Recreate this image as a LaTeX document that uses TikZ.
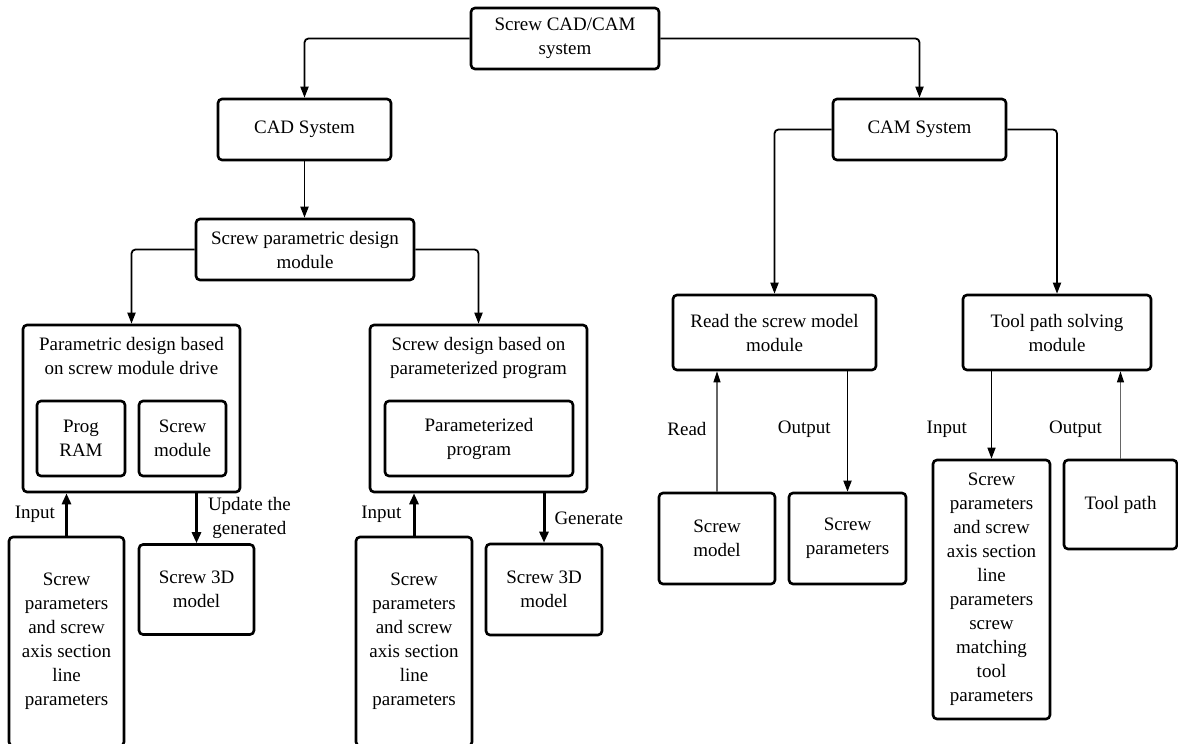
\documentclass[tikz,border=0pt]{standalone}
\usepackage{fontspec}
\setmainfont{Liberation Serif}
\usetikzlibrary{arrows.meta}
\usetikzlibrary{positioning}

\begin{document}
\begin{tikzpicture}[x=1pt,y=-1pt,
    font=\fontsize{19}{24}\selectfont,
    box/.style={draw, line width=2.6pt, rounded corners=4pt, align=center, inner sep=0pt},
    tag/.style={inner sep=0pt, align=center},
    link/.style={line width=1.8pt, rounded corners=4pt, -{Triangle[length=11pt,width=8pt]}},
    heavy/.style={line width=3pt, -{Triangle[length=11pt,width=9pt]}},
    lite/.style={line width=1.1pt, draw=black!60, -{Triangle[length=11pt,width=7pt,color=black]}}]
\useasboundingbox (0,0) rectangle (1178,744);
\clip (0,0) rectangle (1178,744);
\fill[white] (0,0) rectangle (1178,744);

% Root and the two systems
\node[box, minimum width=188pt, minimum height=61pt] (root) at (565,38.5) {Screw CAD/CAM\\system};
\node[box, minimum width=173pt, minimum height=61pt] (cad) at (304.5,129.5) {CAD System};
\node[box, minimum width=173pt, minimum height=61pt] (cam) at (919.5,129.5) {CAM System};

% CAD branch
\node[box, minimum width=218pt, minimum height=61pt] (pdm) at (305,249.5) {Screw parametric design\\module};
\node[box, minimum width=217pt, minimum height=167pt,
    label={[tag, anchor=north, yshift=-13pt]north:Parametric design based\\on screw module drive}] (drv) at (131.5,408.5) {};
\node[box, minimum width=88pt, minimum height=75pt] (ram) at (81,438.5) {Prog\\RAM};
\node[box, minimum width=87pt, minimum height=75pt] (smod) at (182.5,438.5) {Screw\\module};
\node[box, minimum width=217pt, minimum height=167pt,
    label={[tag, anchor=north, yshift=-13pt]north:Screw design based on\\parameterized program}] (ppd) at (478.5,408.5) {};
\node[box, minimum width=188pt, minimum height=75pt] (pprog) at (479,438.5) {Parameterized\\program};
\node[box, minimum width=115pt, minimum height=209pt] (in1) at (66.5,641.5)
    {Screw\\parameters\\and screw\\axis section\\line\\parameters};
\node[box, minimum width=115pt, minimum height=90pt] (m3d1) at (196.5,589.5) {Screw 3D\\model};
\node[box, minimum width=116pt, minimum height=209pt] (in2) at (414,641.5)
    {Screw\\parameters\\and screw\\axis section\\line\\parameters};
\node[box, minimum width=116pt, minimum height=91pt] (m3d2) at (544,589.5) {Screw 3D\\model};

% CAM branch
\node[box, minimum width=203pt, minimum height=75pt] (rsm) at (774.5,332.5) {Read the screw model\\module};
\node[box, minimum width=188pt, minimum height=75pt] (tps) at (1057,332.5) {Tool path solving\\module};
\node[box, minimum width=116pt, minimum height=91pt] (smodel) at (717,538.5) {Screw\\model};
\node[box, minimum width=117pt, minimum height=91pt] (spar) at (847.5,538.5) {Screw\\parameters};
\node[box, minimum width=117pt, minimum height=259pt] (tpin) at (991.5,589.5)
    {Screw\\parameters\\and screw\\axis section\\line\\parameters\\screw\\matching\\tool\\parameters};
\node[box, minimum width=113pt, minimum height=89pt] (tpath) at (1120.5,504.5) {Tool path};

% Tree connectors
\draw[link] (root.west) -| (cad.north);
\draw[link] (root.east) -| (cam.north);
\draw[link] (cad.south) -- (cad.south |- pdm.north);
\draw[link] (pdm.west) -| (drv.north);
\draw[link] (pdm.east) -| (ppd.north);
\draw[link] (cam.west) -| (rsm.north);
\draw[link] (cam.east) -| (tps.north);

% Inputs and outputs
\draw[heavy] (in1.north) -- (in1.north |- drv.south)
    node[tag, midway, left=10pt] {Input};
\draw[heavy] (m3d1.north |- drv.south) -- (m3d1.north)
    node[tag, midway, right=10pt] {Update the\\generated};
\draw[heavy] (in2.north) -- (in2.north |- ppd.south)
    node[tag, midway, left=11pt] {Input};
\draw[heavy] (m3d2.north |- ppd.south) -- (m3d2.north)
    node[tag, midway, right=9pt] {Generate};
\draw[lite] (smodel.north) -- (smodel.north |- rsm.south)
    node[tag, pos=0.52, left=10pt] {Read};
\draw[link] (spar.north |- rsm.south) -- (spar.north)
    node[tag, pos=0.48, left=16pt] {Output};
\draw[link, line width=1.4pt] (tpin.north |- tps.south) -- (tpin.north)
    node[tag, pos=0.66, left=24pt] {Input};
\draw[lite] (tpath.north) -- (tpath.north |- tps.south)
    node[tag, pos=0.34, left=18pt] {Output};
\end{tikzpicture}
\end{document}
